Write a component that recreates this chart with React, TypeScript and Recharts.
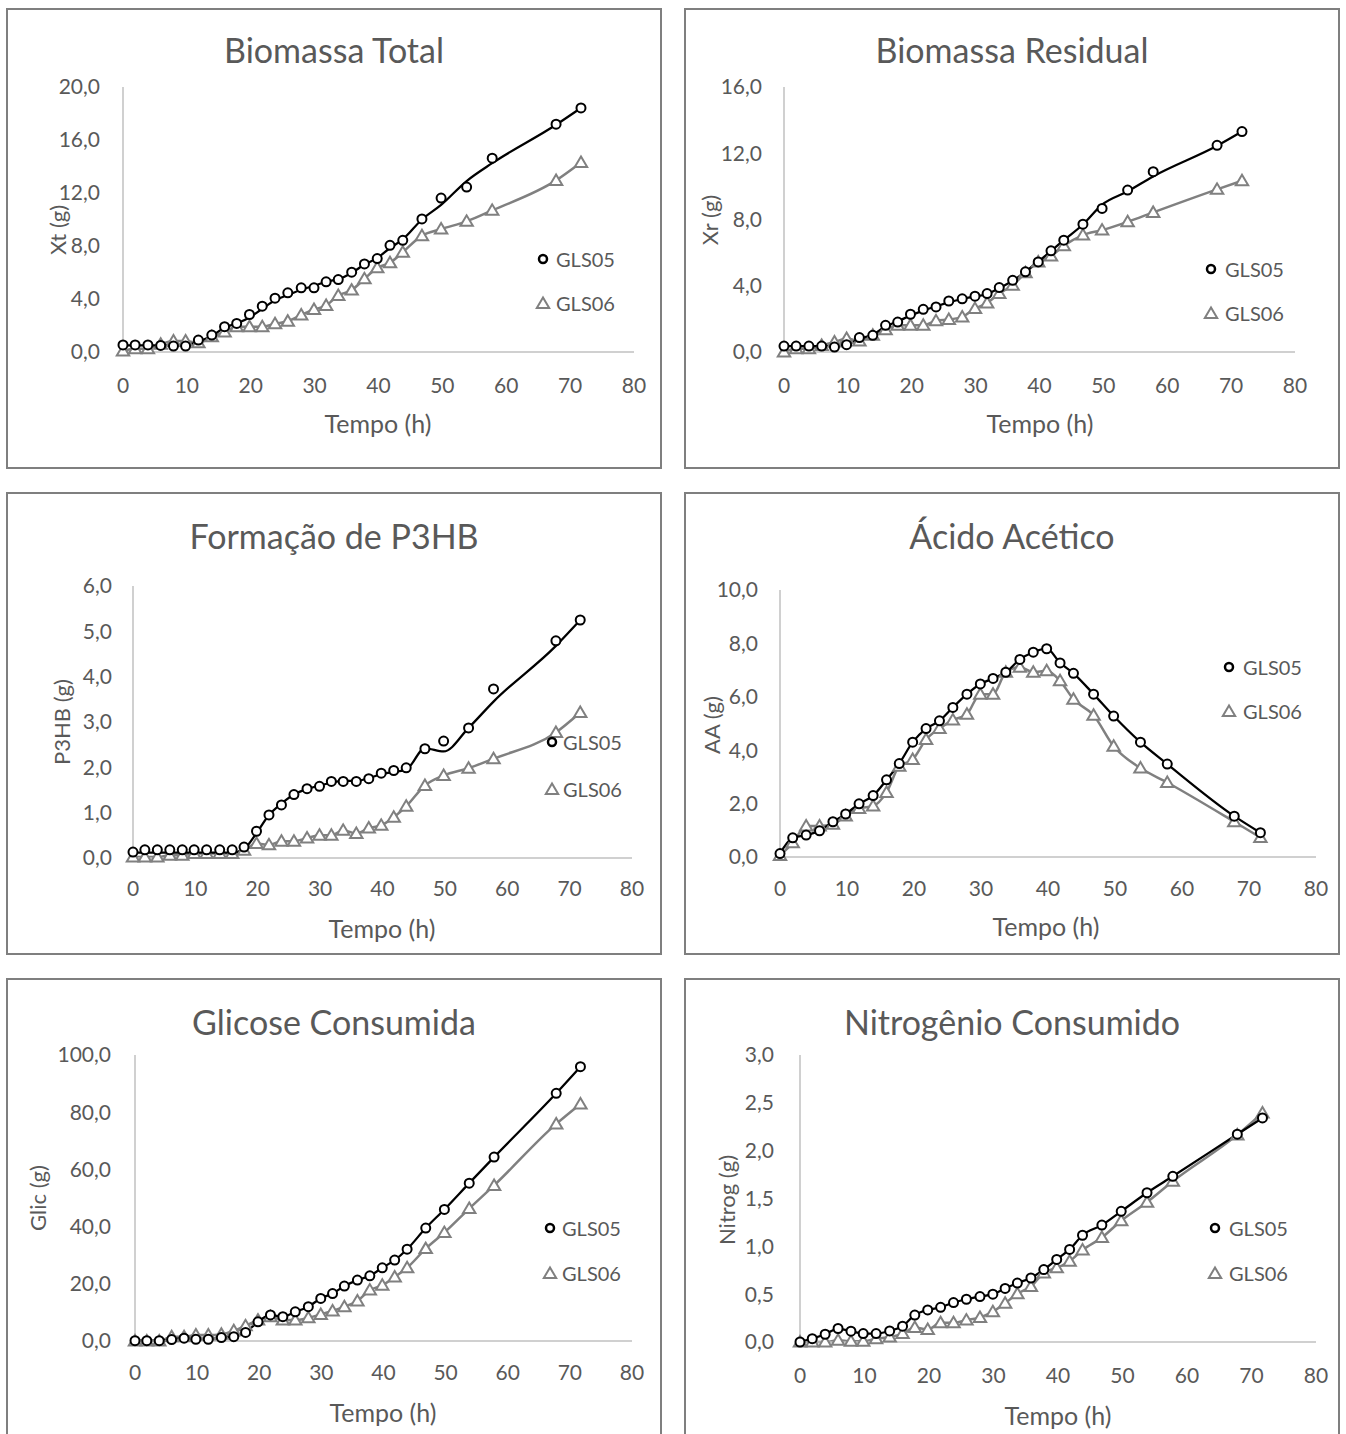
import { LineChart, Line, XAxis, YAxis } from 'recharts'

const TEXT = '#595959'
const FONT = 'Lato, "Open Sans", sans-serif'
const BLACK = '#000000'
const GRAY = '#808080'

// sampling times (h)
const TIME = [0, 1.9, 3.9, 5.9, 7.9, 9.8, 11.8, 13.9, 15.9, 17.8, 19.8, 21.8, 23.8, 25.8, 27.9, 29.9, 31.8, 33.7, 35.8, 37.8, 39.8, 41.8, 43.8, 46.8, 49.8, 53.8, 57.8, 67.8, 71.7]
const X_TICKS = [0, 10, 20, 30, 40, 50, 60, 70, 80]

// Biomassa Total
const XT_05 = [0.53, 0.53, 0.53, 0.5, 0.45, 0.45, 0.9, 1.28, 1.91, 2.16, 2.83, 3.46, 4.06, 4.47, 4.84, 4.84, 5.3, 5.47, 6.02, 6.65, 7.05, 8.05, 8.43, 10.04, 11.62, 12.45, 14.63, 17.19, 18.42]
const XT_05_FIT = [0.5, 0.5, 0.5, 0.5, 0.5, 0.5, 0.8, 1.2, 1.85, 2.15, 2.6, 3.26, 3.9, 4.3, 4.7, 5.0, 5.3, 5.5, 5.97, 6.6, 7.1, 7.85, 8.5, 10.0, 11.1, 12.9, 14.25, 17.15, 18.42]
const XT_06 = [0.08, 0.25, 0.25, 0.58, 0.83, 0.83, 0.7, 1.15, 1.51, 1.91, 1.91, 1.91, 2.13, 2.33, 2.79, 3.21, 3.51, 4.27, 4.67, 5.52, 6.35, 6.73, 7.53, 8.78, 9.28, 9.86, 10.69, 12.95, 14.3]
const XT_TICKS = [0, 4, 8, 12, 16, 20]

// Biomassa Residual
const XR_05 = [0.36, 0.36, 0.36, 0.36, 0.3, 0.44, 0.87, 1.01, 1.61, 1.81, 2.28, 2.58, 2.72, 3.08, 3.21, 3.37, 3.53, 3.89, 4.33, 4.84, 5.44, 6.11, 6.75, 7.72, 8.67, 9.78, 10.89, 12.48, 13.31]
const XR_05_FIT = [0.36, 0.36, 0.36, 0.36, 0.36, 0.44, 0.8, 1.05, 1.55, 1.85, 2.2, 2.5, 2.75, 3.0, 3.2, 3.35, 3.5, 3.85, 4.3, 4.85, 5.45, 6.1, 6.75, 7.7, 8.9, 9.7, 10.6, 12.45, 13.31]
const XR_06 = [0, 0.2, 0.2, 0.4, 0.6, 0.81, 0.67, 1.01, 1.35, 1.61, 1.61, 1.61, 1.88, 1.96, 2.12, 2.62, 2.96, 3.53, 4.03, 4.78, 5.44, 5.79, 6.41, 7.06, 7.36, 7.86, 8.43, 9.82, 10.34]
const XR_TICKS = [0, 4, 8, 12, 16]

// Formação de P3HB
const P3HB_05 = [0.13, 0.18, 0.18, 0.18, 0.18, 0.18, 0.18, 0.18, 0.18, 0.24, 0.59, 0.95, 1.17, 1.4, 1.53, 1.58, 1.69, 1.69, 1.69, 1.75, 1.87, 1.93, 1.99, 2.41, 2.58, 2.87, 3.73, 4.79, 5.25]
const P3HB_05_FIT = [0.12, 0.12, 0.12, 0.12, 0.12, 0.12, 0.12, 0.12, 0.12, 0.2, 0.55, 0.95, 1.2, 1.4, 1.52, 1.6, 1.66, 1.7, 1.7, 1.76, 1.85, 1.9, 1.95, 2.42, 2.35, 2.87, 3.45, 4.68, 5.25]
const P3HB_06 = [0.02, 0.02, 0.02, 0.06, 0.06, 0.1, 0.1, 0.1, 0.1, 0.17, 0.32, 0.29, 0.37, 0.37, 0.44, 0.5, 0.5, 0.61, 0.54, 0.66, 0.72, 0.9, 1.14, 1.6, 1.82, 1.98, 2.19, 2.77, 3.21]
const P3HB_TICKS = [0, 1, 2, 3, 4, 5, 6]

// Ácido Acético
const AA_05 = [0.13, 0.72, 0.82, 0.98, 1.32, 1.61, 1.99, 2.3, 2.89, 3.5, 4.3, 4.81, 5.1, 5.6, 6.1, 6.48, 6.69, 6.92, 7.4, 7.67, 7.8, 7.27, 6.88, 6.1, 5.28, 4.3, 3.48, 1.53, 0.91]
const AA_06 = [0.06, 0.53, 1.16, 1.16, 1.23, 1.54, 1.82, 1.91, 2.42, 3.4, 3.65, 4.4, 4.81, 5.13, 5.35, 6.1, 6.1, 6.92, 7.11, 6.92, 6.98, 6.6, 5.91, 5.31, 4.15, 3.33, 2.79, 1.32, 0.73]
const AA_TICKS = [0, 2, 4, 6, 8, 10]

// Glicose Consumida
const GLIC_05 = [0.1, 0.1, 0.1, 0.5, 1.0, 0.6, 0.6, 1.2, 1.5, 3.0, 6.7, 9.1, 8.5, 10.2, 12.0, 14.9, 16.6, 19.2, 21.3, 22.8, 25.6, 28.3, 32.1, 39.5, 46.0, 55.2, 64.3, 86.6, 95.9]
const GLIC_06 = [0, 0, 0, 1.5, 1.5, 2.1, 2.1, 2.4, 3.6, 5.3, 7.3, 8.5, 7.3, 7.3, 8.1, 9.3, 10.5, 12.0, 14.0, 17.8, 19.5, 22.4, 25.6, 32.3, 37.9, 46.3, 54.4, 75.9, 82.9]
const GLIC_TICKS = [0, 20, 40, 60, 80, 100]

// Nitrogênio Consumido
const NITROG_05 = [0, 0.035, 0.081, 0.141, 0.113, 0.088, 0.088, 0.116, 0.165, 0.282, 0.335, 0.363, 0.412, 0.447, 0.475, 0.5, 0.56, 0.616, 0.669, 0.757, 0.863, 0.968, 1.116, 1.222, 1.366, 1.56, 1.732, 2.172, 2.342]
const NITROG_06 = [0, 0, 0, 0.018, 0.007, 0.007, 0.035, 0.053, 0.088, 0.151, 0.13, 0.201, 0.201, 0.229, 0.257, 0.317, 0.405, 0.504, 0.581, 0.722, 0.775, 0.845, 0.961, 1.092, 1.268, 1.461, 1.68, 2.165, 2.394]
const NITROG_TICKS = [0, 0.5, 1, 1.5, 2, 2.5, 3]

const SERIES_NAMES = ['GLS05', 'GLS06']

type PanelCfg = {
  title: string
  yLabel: string
  left: number
  top: number
  height: number
  plot: { l: number; r: number; t: number; b: number }
  yTicks: number[]
  a: number[]
  aFit?: number[]
  b: number[]
  titleY: number
  yLabelPos: [number, number]
  xLabelPos: [number, number]
  legendX: number
  legendRows: [number, number]
  legendText: number
  yGap: number
  xGap: number
}

const PANELS: PanelCfg[] = [
  {
    title: 'Biomassa Total', yLabel: 'Xt (g)', left: 6, top: 8, height: 461,
    plot: { l: 117, r: 628, t: 79, b: 344 }, yTicks: XT_TICKS,
    a: XT_05, aFit: XT_05_FIT, b: XT_06, titleY: 42,
    yLabelPos: [52, 222], xLabelPos: [372, 415],
    legendX: 537, legendRows: [251, 295], legendText: 550, yGap: 23, xGap: 33,
  },
  {
    title: 'Biomassa Residual', yLabel: 'Xr (g)', left: 684, top: 8, height: 461,
    plot: { l: 100, r: 611, t: 79, b: 344 }, yTicks: XR_TICKS,
    a: XR_05, aFit: XR_05_FIT, b: XR_06, titleY: 42,
    yLabelPos: [26, 212], xLabelPos: [356, 415],
    legendX: 527, legendRows: [261, 305], legendText: 541, yGap: 22, xGap: 33,
  },
  {
    title: 'Formação de P3HB', yLabel: 'P3HB (g)', left: 6, top: 492, height: 463,
    plot: { l: 127, r: 626, t: 94, b: 366 }, yTicks: P3HB_TICKS,
    a: P3HB_05, aFit: P3HB_05_FIT, b: P3HB_06, titleY: 44,
    yLabelPos: [56, 230], xLabelPos: [376, 436],
    legendX: 546, legendRows: [250, 297], legendText: 557, yGap: 21, xGap: 30,
  },
  {
    title: 'Ácido Acético', yLabel: 'AA (g)', left: 684, top: 492, height: 463,
    plot: { l: 96, r: 632, t: 98, b: 365 }, yTicks: AA_TICKS,
    a: AA_05, b: AA_06, titleY: 44,
    yLabelPos: [28, 233], xLabelPos: [362, 434],
    legendX: 545, legendRows: [175, 219], legendText: 559, yGap: 22, xGap: 31,
  },
  {
    title: 'Glicose Consumida', yLabel: 'Glic (g)', left: 6, top: 978, height: 461,
    plot: { l: 129, r: 626, t: 77, b: 363 }, yTicks: GLIC_TICKS,
    a: GLIC_05, b: GLIC_06, titleY: 44,
    yLabelPos: [32, 220], xLabelPos: [377, 434],
    legendX: 544, legendRows: [250, 295], legendText: 556, yGap: 24, xGap: 31,
  },
  {
    title: 'Nitrogênio Consumido', yLabel: 'Nitrog (g)', left: 684, top: 978, height: 461,
    plot: { l: 116, r: 632, t: 77, b: 364 }, yTicks: NITROG_TICKS,
    a: NITROG_05, b: NITROG_06, titleY: 44,
    yLabelPos: [43, 222], xLabelPos: [374, 437],
    legendX: 531, legendRows: [250, 295], legendText: 545, yGap: 26, xGap: 33,
  },
]

const W = 656

const fmt = (v: number) => v.toFixed(1).replace('.', ',')

const circleDot = (props: any) => {
  const { cx, cy, index } = props
  if (cx == null || cy == null) return <g key={`c-${index}`} />
  return <circle key={`c-${index}`} cx={cx} cy={cy} r={4.5} fill="#fff" stroke={BLACK} strokeWidth={2} />
}

const triPoints = (cx: number, cy: number) =>
  `${cx},${cy - 6} ${cx - 6.2},${cy + 4.5} ${cx + 6.2},${cy + 4.5}`

const triangleDot = (props: any) => {
  const { cx, cy, index } = props
  if (cx == null || cy == null) return <g key={`t-${index}`} />
  return <polygon key={`t-${index}`} points={triPoints(cx, cy)} fill="#fff" stroke={GRAY} strokeWidth={2} strokeLinejoin="miter" />
}

function Panel({ p }: { p: PanelCfg }) {
  const fit = p.aFit ?? p.a
  const data = TIME.map((t, i) => ({ t, a: p.a[i], af: fit[i], b: p.b[i] }))
  const yMax = p.yTicks[p.yTicks.length - 1]
  const tick = { fill: TEXT, fontSize: 21, fontFamily: FONT }
  const center = { position: 'absolute' as const, color: TEXT, fontFamily: FONT, whiteSpace: 'nowrap' as const, lineHeight: 1 }

  return (
    <div style={{ position: 'absolute', left: p.left, top: p.top, width: W, height: p.height }}>
      <LineChart
        width={W}
        height={p.height}
        data={data}
        margin={{ top: p.plot.t, right: W - p.plot.r, bottom: 0, left: 0 }}
      >
        <XAxis
          dataKey="t"
          type="number"
          domain={[0, 80]}
          ticks={X_TICKS}
          height={p.height - p.plot.b}
          axisLine={{ stroke: '#c0c0c0', strokeWidth: 1.5 }}
          tickLine={false}
          tickSize={0}
          tickMargin={p.xGap - 7}
          tick={tick}
        />
        <YAxis
          type="number"
          domain={[0, yMax]}
          ticks={p.yTicks}
          width={p.plot.l}
          axisLine={{ stroke: '#c0c0c0', strokeWidth: 1.5 }}
          tickLine={false}
          tickSize={0}
          tickMargin={p.yGap}
          tickFormatter={fmt}
          tick={tick}
        />
        <Line dataKey="b" type="monotone" stroke={GRAY} strokeWidth={2.5} dot={triangleDot} isAnimationActive={false} />
        <Line dataKey="af" type="monotone" stroke={BLACK} strokeWidth={2.25} dot={false} isAnimationActive={false} />
        <Line dataKey="a" type="monotone" stroke="none" strokeWidth={0} dot={circleDot} isAnimationActive={false} />
      </LineChart>

      <div style={{ ...center, left: W / 2, top: p.titleY, fontSize: 34, transform: 'translate(-50%, -50%)' }}>
        {p.title}
      </div>
      <div style={{ ...center, left: p.xLabelPos[0], top: p.xLabelPos[1], fontSize: 25, transform: 'translate(-50%, -50%)' }}>
        Tempo (h)
      </div>
      <div style={{ ...center, left: p.yLabelPos[0], top: p.yLabelPos[1], fontSize: 22, transform: 'translate(-50%, -50%) rotate(-90deg)' }}>
        {p.yLabel}
      </div>

      {SERIES_NAMES.map((name, i) => (
        <div key={name}>
          <svg
            width={20}
            height={20}
            style={{ position: 'absolute', left: p.legendX - 10, top: p.legendRows[i] - 10 }}
          >
            {i === 0 ? (
              <circle cx={10} cy={10} r={4} fill="#fff" stroke={BLACK} strokeWidth={2.5} />
            ) : (
              <polygon points={triPoints(10, 10.5)} fill="#fff" stroke={GRAY} strokeWidth={2} />
            )}
          </svg>
          <div style={{ ...center, left: p.legendText, top: p.legendRows[i], fontSize: 20, transform: 'translateY(-50%)' }}>
            {name}
          </div>
        </div>
      ))}

      <div
        style={{
          position: 'absolute',
          left: 0,
          top: 0,
          width: W,
          height: p.height,
          border: '2px solid #7f7f7f',
          boxSizing: 'border-box',
          pointerEvents: 'none',
        }}
      />
    </div>
  )
}

export default function App() {
  return (
    <div
      style={{
        position: 'absolute',
        left: 0,
        top: 0,
        width: 1346,
        height: 1434,
        overflow: 'hidden',
        background: '#fff',
      }}
    >
      {PANELS.map((p) => (
        <Panel key={p.title} p={p} />
      ))}
    </div>
  )
}
